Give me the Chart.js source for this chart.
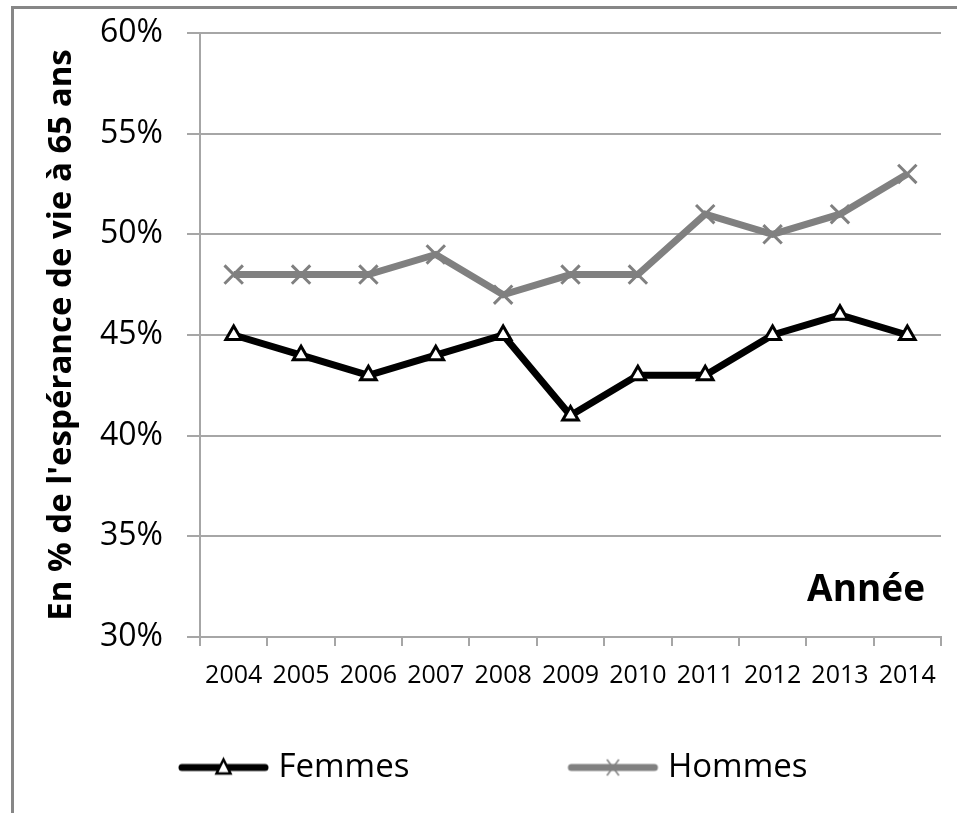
<!DOCTYPE html>
<html lang="fr">
<head>
  <meta charset="UTF-8">
  <title>Espérance de vie à 65 ans</title>
  <style>
    body { margin: 0; background: #fff; overflow: hidden; }
    #wrap { position: relative; width: 957px; height: 813px; }
    #frame { position: absolute; left: 11px; top: 6px; width: 980px; height: 840px; border: 3px solid #878787; }
    #myChart { position: absolute; left: 0; top: 0; }
  </style>
</head>
<body>

  <div id="wrap">
    <div id="frame"></div>
    <canvas id="myChart" width="957" height="813"></canvas>
  </div>

  <script src="https://cdn.jsdelivr.net/npm/chart.js"></script>

  <script>
    const years = ['2004', '2005', '2006', '2007', '2008', '2009', '2010', '2011', '2012', '2013', '2014']
    const femmes = [45, 44, 43, 44, 45, 41, 43, 43, 45, 46, 45]
    const hommes = [48, 48, 48, 49, 47, 48, 48, 51, 50, 51, 53]
    const yTicks = [30, 35, 40, 45, 50, 55, 60]

    const FONT = "'Open Sans'"
    const BOX_W = 232   // legend box width, sets the spacing between the two entries

    // legend icon: thick line with the series marker, pushed to the right end of the box
    function legendIcon (color, marker) {
      const c = document.createElement('canvas')
      c.width = BOX_W + 24
      c.height = 24
      const ctx = c.getContext('2d')
      const mid = c.width / 2
      const x0 = mid + BOX_W / 2 - 80
      const x1 = mid + BOX_W / 2 + 3
      ctx.strokeStyle = color
      ctx.lineWidth = 7
      ctx.lineCap = 'round'
      ctx.beginPath()
      ctx.moveTo(x0, 12)
      ctx.lineTo(x1, 12)
      ctx.stroke()
      const cx = (x0 + x1) / 2
      if (marker === 'triangle') {
        ctx.fillStyle = '#fff'
        ctx.lineWidth = 2.5
        ctx.lineCap = 'butt'
        ctx.beginPath()
        ctx.moveTo(cx, 4)
        ctx.lineTo(cx + 7, 18)
        ctx.lineTo(cx - 7, 18)
        ctx.closePath()
        ctx.fill()
        ctx.stroke()
      } else {
        ctx.lineWidth = 1.5
        ctx.lineCap = 'butt'
        ctx.beginPath()
        ctx.moveTo(cx - 6, 4); ctx.lineTo(cx + 6, 20)
        ctx.moveTo(cx + 6, 4); ctx.lineTo(cx - 6, 20)
        ctx.stroke()
      }
      return c
    }

    const icons = [legendIcon('#000', 'triangle'), legendIcon('#808080', 'cross')]

    // "Année" written inside the plot, bottom right
    const axisNote = {
      id: 'axisNote',
      afterDraw (chart) {
        const { ctx, chartArea } = chart
        ctx.save()
        ctx.font = 'bold 37px ' + FONT
        ctx.fillStyle = '#000'
        ctx.textAlign = 'right'
        ctx.textBaseline = 'middle'
        ctx.fillText('Année', chartArea.right - 16, chartArea.bottom - 47)
        ctx.restore()
      }
    }

    const data = {
      labels: years,
      datasets: [{
        label: 'Femmes',
        data: femmes,
        borderColor: '#000',
        backgroundColor: '#000',
        borderWidth: 7,
        pointStyle: 'triangle',
        pointRadius: 9,
        pointBorderWidth: 3,
        pointBackgroundColor: '#fff',
        pointBorderColor: '#000',
        tension: 0
      }, {
        label: 'Hommes',
        data: hommes,
        borderColor: '#808080',
        backgroundColor: '#808080',
        borderWidth: 7,
        pointStyle: 'crossRot',
        pointRadius: 13,
        pointBorderWidth: 3,
        pointBorderColor: '#808080',
        tension: 0
      }]
    }

    const config = {
      type: 'line',
      data: data,
      plugins: [axisNote],
      options: {
        responsive: false,
        animation: false,
        layout: { padding: { left: 20, right: 12, top: 33, bottom: 19 } },
        plugins: {
          tooltip: { enabled: false },
          legend: {
            position: 'bottom',
            align: 'start',
            labels: {
              usePointStyle: true,
              pointStyleWidth: BOX_W,
              padding: 10,
              color: '#000',
              font: { family: FONT, size: 33 },
              generateLabels: chart => chart.data.datasets.map((ds, i) => ({
                text: ds.label,
                pointStyle: icons[i],
                fillStyle: 'transparent',
                strokeStyle: 'transparent',
                lineWidth: 0,
                hidden: false,
                datasetIndex: i
              }))
            }
          }
        },
        scales: {
          x: {
            offset: true,
            afterFit: s => { s.height = 104 },
            grid: {
              offset: true,
              drawOnChartArea: false,
              tickLength: 9,
              color: '#a6a6a6',
              lineWidth: 2
            },
            border: { color: '#a6a6a6', width: 2 },
            ticks: {
              color: '#000',
              padding: 15,
              maxRotation: 0,
              font: { family: FONT, size: 25 }
            }
          },
          y: {
            min: 30,
            max: 60,
            afterFit: s => {
              s.width = 180
              s.paddingTop = 0
              s.paddingBottom = 0
            },
            afterBuildTicks: s => { s.ticks = yTicks.map(v => ({ value: v })) },
            grid: { color: '#a6a6a6', lineWidth: 2, tickLength: 13 },
            border: { color: '#a6a6a6', width: 2 },
            title: {
              display: true,
              text: "En % de l'espérance de vie à 65 ans",
              color: '#000',
              padding: { top: 22, bottom: 0 },
              font: { family: FONT, size: 33, weight: 'bold' }
            },
            ticks: {
              color: '#000',
              padding: 24,
              font: { family: FONT, size: 32 },
              callback: v => v + '%'
            }
          }
        }
      }
    }

    const myChart = new Chart(document.getElementById('myChart'), config)
  </script>

</body>
</html>
